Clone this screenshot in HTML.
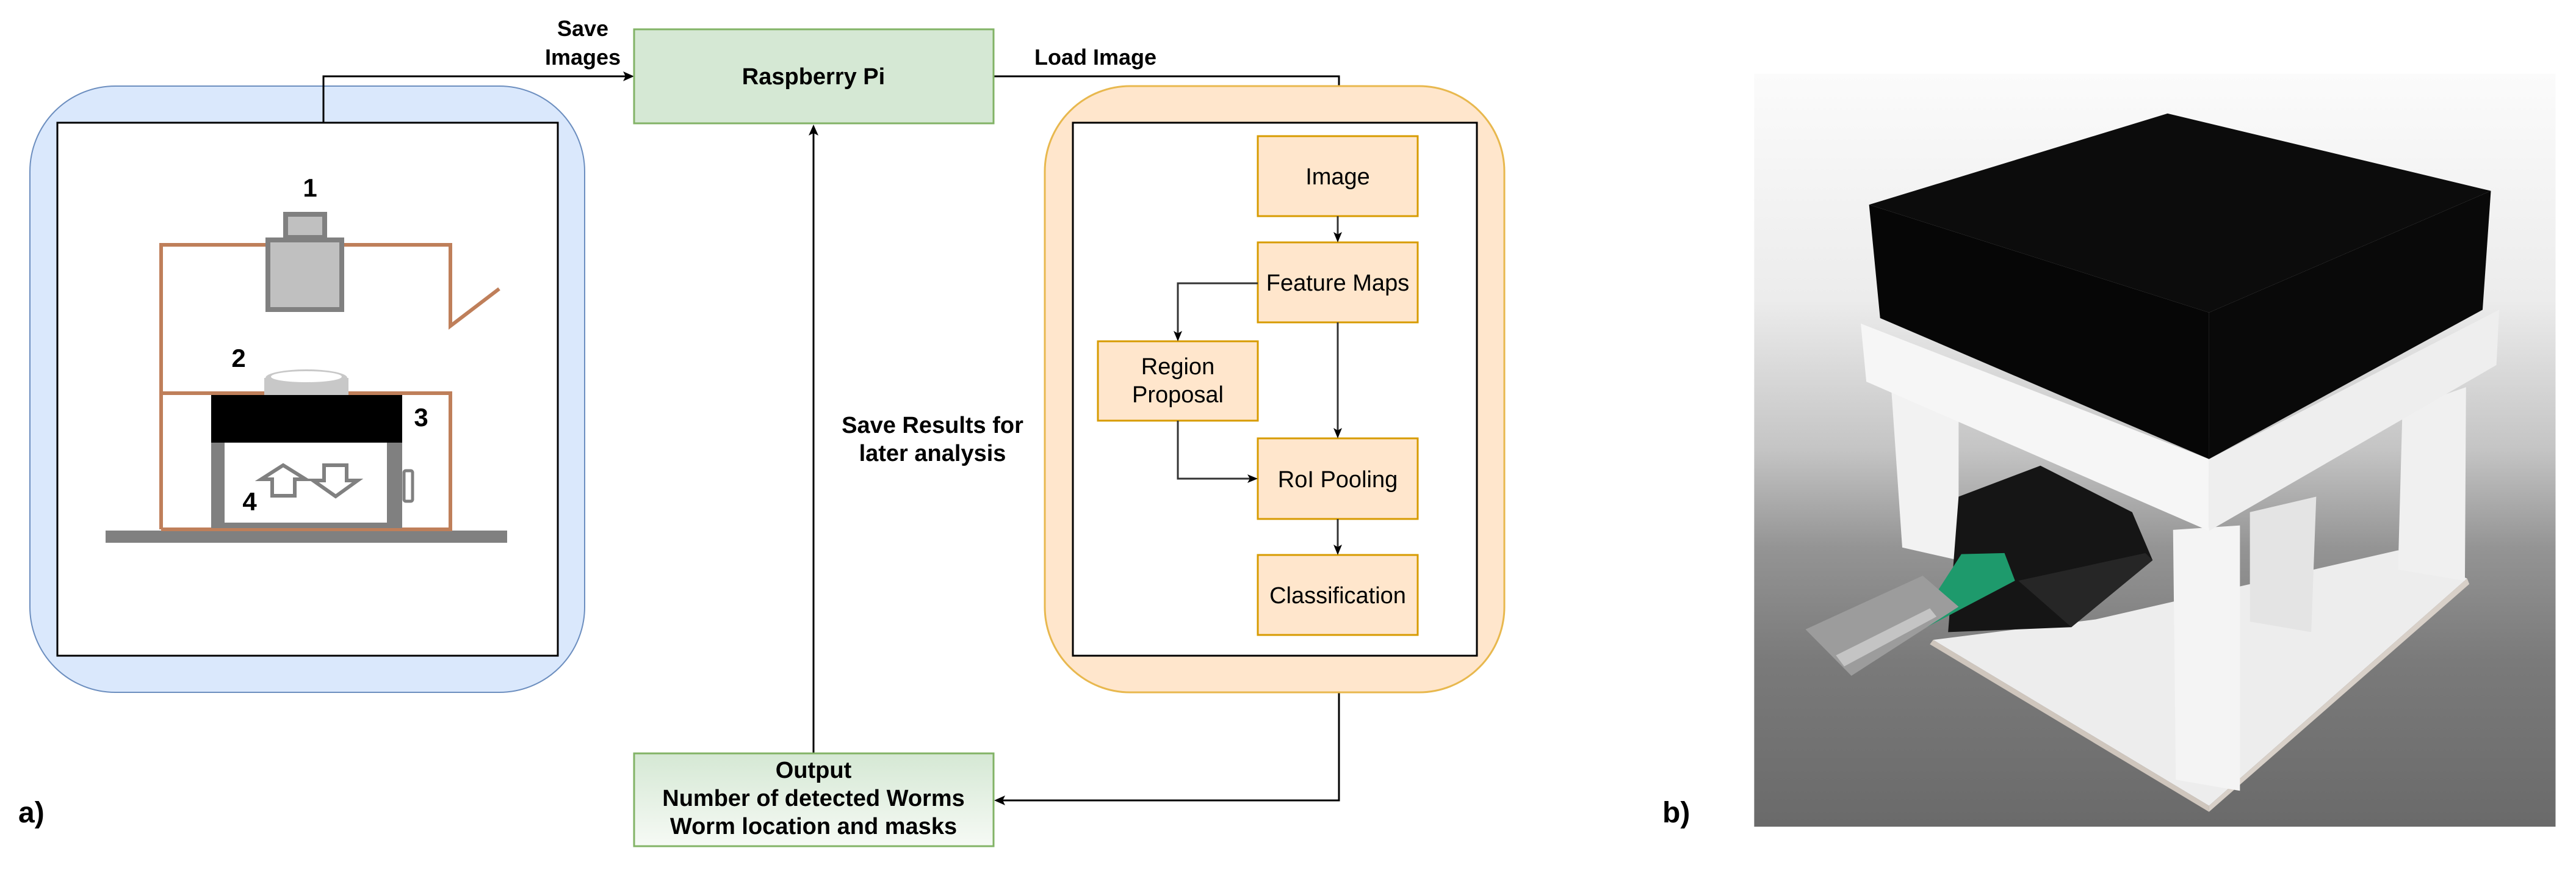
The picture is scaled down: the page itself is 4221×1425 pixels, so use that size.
<!DOCTYPE html>
<html><head><meta charset="utf-8"><style>
html,body{margin:0;padding:0;background:#fff;overflow:hidden;width:4221px;height:1425px;}
svg{display:block;}
text{font-family:"Liberation Sans",Arial,sans-serif;}
</style></head><body>
<svg width="4221" height="1425" viewBox="0 0 4221 1425" xmlns="http://www.w3.org/2000/svg">
<defs>
<linearGradient id="og" x1="0" y1="0" x2="0" y2="1"><stop offset="0" stop-color="#d5e8d4"/><stop offset="1" stop-color="#f6faf5"/></linearGradient>
<linearGradient id="pg" x1="0" y1="0" x2="0" y2="1">
<stop offset="0" stop-color="#fbfbfb"/><stop offset="0.3" stop-color="#ececec"/><stop offset="0.5" stop-color="#c4c4c4"/><stop offset="0.63" stop-color="#949494"/><stop offset="0.78" stop-color="#7a7a7a"/><stop offset="1" stop-color="#6a6a6a"/></linearGradient>
<clipPath id="pc"><rect x="82" y="133" width="1450" height="1362"/></clipPath>
</defs>

<!-- Left blue container -->
<rect x="49" y="141" width="909" height="993" rx="140" fill="#dae8fc" stroke="#6c8ebf" stroke-width="2"/>
<rect x="94" y="201" width="820" height="873" fill="#fff" stroke="#000" stroke-width="3"/>

<!-- device drawing -->
<rect x="173" y="869" width="658" height="20" fill="#808080"/>
<polyline points="264,867 264,401 738,401 738,534 818,473" fill="none" stroke="#bf7f5a" stroke-width="6"/>
<polyline points="264,644 738,644 738,867 264,867" fill="none" stroke="#bf7f5a" stroke-width="6"/>
<rect x="468" y="351" width="64" height="38" fill="#c0c0c0" stroke="#808080" stroke-width="8"/>
<rect x="439" y="393" width="121" height="114" fill="#c0c0c0" stroke="#808080" stroke-width="8"/>
<rect x="433" y="619" width="138" height="28" fill="#c8c8c8"/>
<ellipse cx="502" cy="619" rx="67" ry="14" fill="#c8c8c8"/>
<ellipse cx="502" cy="617" rx="58" ry="9" fill="#fff"/>
<rect x="346" y="647" width="313" height="78" fill="#000"/>
<rect x="346" y="725" width="22" height="140" fill="#808080"/>
<rect x="634" y="725" width="25" height="140" fill="#808080"/>
<rect x="346" y="856" width="313" height="9" fill="#808080"/>
<rect x="662" y="771" width="14" height="50" rx="3" fill="#fff" stroke="#808080" stroke-width="5"/>
<path d="M464,762 L428,785 L446,785 L446,812 L483,812 L483,785 L501,785 Z" fill="#fff" stroke="#808080" stroke-width="6"/>
<path d="M550,813 L513,787 L531,787 L531,762 L568,762 L568,787 L586,787 Z" fill="#fff" stroke="#808080" stroke-width="6"/>
<text x="508" y="322" font-size="42" font-weight="bold" text-anchor="middle">1</text>
<text x="391" y="601" font-size="42" font-weight="bold" text-anchor="middle">2</text>
<text x="690" y="698" font-size="42" font-weight="bold" text-anchor="middle">3</text>
<text x="409" y="836" font-size="42" font-weight="bold" text-anchor="middle">4</text>

<!-- connectors -->
<g fill="none" stroke="#000" stroke-width="3">
<polyline points="530,201 530,125 1025,125"/>
<polyline points="1628,125 2194,125 2194,187"/>
<polyline points="2194,1074 2194,1311 1643,1311"/>
<line x1="1333" y1="1234" x2="1333" y2="218"/>
</g>
<g fill="#000">
<polygon points="1039,125 1021,117 1025,125 1021,133"/>
<polygon points="2194,201 2186,183 2194,187 2202,183"/>
<polygon points="1629,1311 1647,1303 1643,1311 1647,1319"/>
<polygon points="1333,204 1325,222 1333,218 1341,222"/>
</g>
<text x="955" y="59" font-size="36" font-weight="bold" text-anchor="middle">Save</text>
<text x="955" y="106" font-size="36" font-weight="bold" text-anchor="middle">Images</text>
<text x="1795" y="106" font-size="36" font-weight="bold" text-anchor="middle">Load Image</text>

<!-- Raspberry Pi -->
<rect x="1039" y="48" width="589" height="154" fill="#d5e8d4" stroke="#82b366" stroke-width="3"/>
<text x="1333" y="138" font-size="38" font-weight="bold" text-anchor="middle">Raspberry Pi</text>

<!-- Orange container -->
<rect x="1712" y="141" width="753" height="993" rx="140" fill="#ffe6cc" stroke="#e8b84e" stroke-width="3"/>
<rect x="1758" y="201" width="662" height="873" fill="#fff" stroke="#000" stroke-width="3"/>

<g fill="#ffe6cc" stroke="#d79b00" stroke-width="3">
<rect x="2061" y="223" width="262" height="131"/>
<rect x="2061" y="397" width="262" height="131"/>
<rect x="1799" y="559" width="262" height="130"/>
<rect x="2061" y="718" width="262" height="132"/>
<rect x="2061" y="909" width="262" height="131"/>
</g>
<g font-size="38" text-anchor="middle">
<text x="2192" y="302">Image</text>
<text x="2192" y="476">Feature Maps</text>
<text x="1930" y="613">Region</text>
<text x="1930" y="659">Proposal</text>
<text x="2192" y="798">RoI Pooling</text>
<text x="2192" y="988">Classification</text>
</g>
<g fill="none" stroke="#333" stroke-width="3">
<line x1="2192" y1="354" x2="2192" y2="384"/>
<polyline points="2061,464 1930,464 1930,546"/>
<line x1="2192" y1="528" x2="2192" y2="705"/>
<polyline points="1930,689 1930,784 2048,784"/>
<line x1="2192" y1="850" x2="2192" y2="896"/>
</g>
<g fill="#000">
<polygon points="2192,397 2185,380 2192,384 2199,380"/>
<polygon points="1930,559 1923,542 1930,546 1937,542"/>
<polygon points="2192,718 2185,701 2192,705 2199,701"/>
<polygon points="2061,784 2044,777 2048,784 2044,791"/>
<polygon points="2192,909 2185,892 2192,896 2199,892"/>
</g>

<!-- Output -->
<rect x="1039" y="1234" width="589" height="152" fill="url(#og)" stroke="#82b366" stroke-width="3"/>
<g font-size="38" font-weight="bold" text-anchor="middle">
<text x="1333" y="1274">Output</text>
<text x="1333" y="1320">Number of detected Worms</text>
<text x="1333" y="1366">Worm location and masks</text>
</g>
<text x="1528" y="709" font-size="38" font-weight="bold" text-anchor="middle">Save Results for</text>
<text x="1528" y="755" font-size="38" font-weight="bold" text-anchor="middle">later analysis</text>

<text x="30" y="1347" font-size="48" font-weight="bold">a)</text>
<text x="2724" y="1347" font-size="48" font-weight="bold">b)</text>

<!-- Photo -->
<svg x="2800" y="0" width="1421" height="1425" viewBox="0 0 1569 1573">
<g clip-path="url(#pc)">
<rect x="82" y="133" width="1450" height="1362" fill="url(#pg)"/>
<!-- base plate -->
<polygon points="406,1157 905,1457 1372,1046 1247,995 700,1120" fill="#ededed"/>
<polygon points="406,1157 905,1457 905,1468 400,1165" fill="#cfc6bd"/>
<polygon points="905,1457 1372,1046 1376,1056 905,1468" fill="#d8d0c8"/>
<!-- interior back panel -->
<polygon points="979,926 1099,898 1090,1143 979,1124" fill="#e4e4e4"/>
<!-- legs -->
<polygon points="330,700 452,740 452,1013 350,990" fill="#f2f2f2"/>
<polygon points="1255,740 1370,700 1368,1050 1247,1030" fill="#f0f0f0"/>
<!-- electronics -->
<polygon points="452,898 600,842 766,926 803,1013 656,1134 433,1143" fill="#151515"/>
<polygon points="560,1050 790,1000 803,1013 656,1134" fill="#262626"/>
<!-- USB -->
<polygon points="457,1002 535,1000 554,1050 360,1152" fill="#1e9a6c"/>
<polygon points="175,1138 387,1041 452,1097 258,1222" fill="#9c9c9c"/>
<polygon points="230,1185 400,1100 412,1115 245,1205" fill="#c4c4c4"/>
<!-- front leg -->
<polygon points="840,958 961,950 961,1430 845,1410" fill="#f4f4f4"/>
<!-- frame -->
<polygon points="275,585 905,830 905,960 285,690" fill="#f6f6f6"/>
<polygon points="905,830 1430,560 1425,660 905,960" fill="#eeeeee"/>
<!-- black box -->
<polygon points="290,370 830,205 1415,345 905,565" fill="#0c0c0c"/>
<polygon points="290,370 905,565 905,830 310,575" fill="#060606"/>
<polygon points="905,565 1415,345 1400,560 905,830" fill="#090909"/>
</g>
</svg>
</svg>
</body></html>
